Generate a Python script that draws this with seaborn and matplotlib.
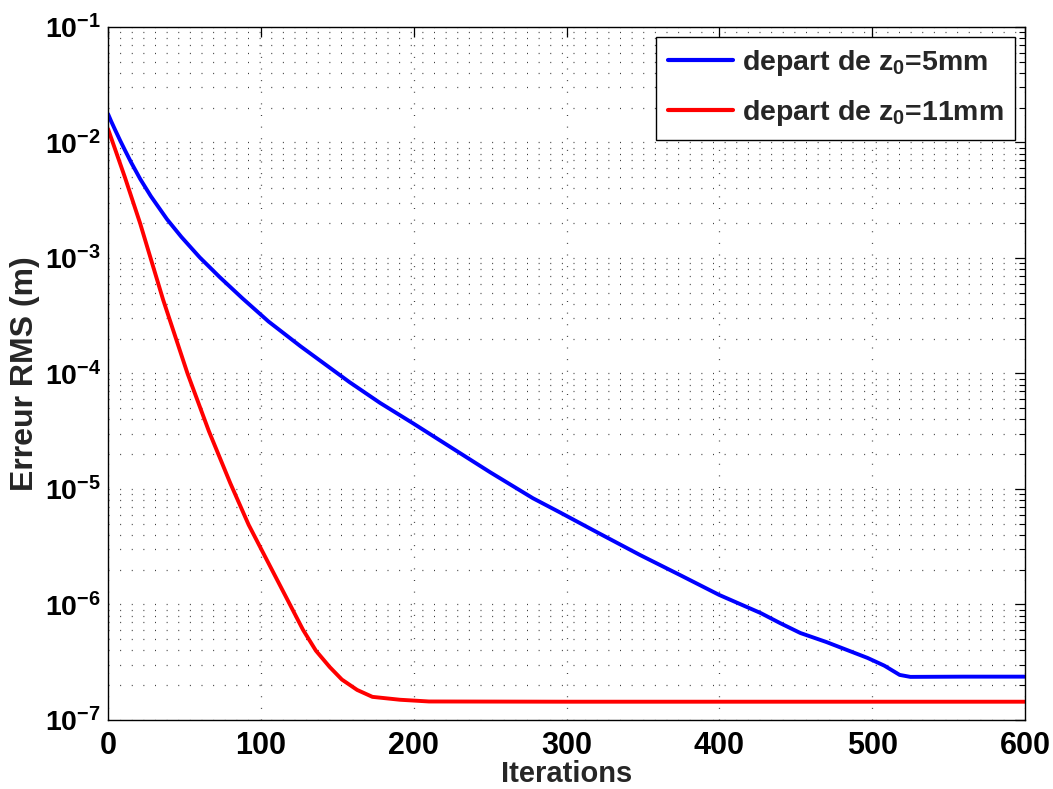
import numpy as np
import pandas as pd
import matplotlib
matplotlib.use("Agg")
import matplotlib.pyplot as plt
import seaborn as sns
from matplotlib.ticker import LogLocator, FixedLocator, NullFormatter

# ---- data (log10 of RMS error) ----
blue_iter = [0, 2, 4.6, 8, 11, 15, 21, 28, 38.6, 48, 60, 73, 88, 105, 126, 142, 158,
             178, 200, 225, 250, 278, 296, 320, 348, 375, 400, 427, 440, 453, 470,
             497, 508, 518, 525, 560, 600]
blue_log = [-1.753, -1.815, -1.89, -1.985, -2.065, -2.17, -2.315, -2.465, -2.665, -2.818,
            -2.995, -3.165, -3.35, -3.55, -3.765, -3.92, -4.075, -4.255, -4.435, -4.645,
            -4.855, -5.08, -5.205, -5.375, -5.571, -5.75, -5.918, -6.074, -6.163,
            -6.247, -6.325, -6.463, -6.53, -6.61, -6.627, -6.625, -6.625]
red_iter = [0, 11, 21, 36, 52, 66, 80, 92, 104.7, 119, 127.6, 136, 145, 153, 163,
            173, 191, 210, 300, 400, 600]
red_log = [-1.883, -2.30, -2.70, -3.36, -4.0, -4.5, -4.95, -5.31, -5.635, -6.0, -6.22,
           -6.40, -6.541, -6.65, -6.74, -6.80, -6.825, -6.84, -6.842, -6.842, -6.842]
series_labels = ["depart de z$_0$=5mm", "depart de z$_0$=11mm"]
series_colors = ["#0000ff", "#ff0000"]
x_ticks = [0, 100, 200, 300, 400, 500, 600]

df = pd.concat([
    pd.DataFrame({"Iterations": blue_iter, "err": 10.0 ** np.array(blue_log), "series": series_labels[0]}),
    pd.DataFrame({"Iterations": red_iter, "err": 10.0 ** np.array(red_log), "series": series_labels[1]}),
], ignore_index=True)

sns.set_style("white")
plt.rcParams["font.family"] = ["Liberation Sans", "DejaVu Sans"]
plt.rcParams["font.weight"] = "bold"
plt.rcParams["mathtext.fontset"] = "custom"
plt.rcParams["mathtext.rm"] = "Liberation Sans:bold"
plt.rcParams["mathtext.bf"] = "Liberation Sans:bold"
plt.rcParams["mathtext.it"] = "Liberation Sans:bold"
plt.rcParams["mathtext.default"] = "bf"

fig = plt.figure(figsize=(10.53, 7.89), dpi=100)
ax = fig.add_axes([0.1026, 0.0875, 0.8708, 0.8783])

sns.lineplot(data=df, x="Iterations", y="err", hue="series", palette=series_colors,
             linewidth=2.8, ax=ax, sort=False, estimator=None)
for ln in ax.get_lines():
    ln.set_solid_joinstyle("round")
ax.set_yscale("log")
ax.set_xlim(0, 600)
ax.set_ylim(1e-7, 1e-1)
ax.xaxis.set_major_locator(FixedLocator(x_ticks))
ax.yaxis.set_major_locator(LogLocator(base=10, numticks=10))
ax.yaxis.set_minor_locator(LogLocator(base=10, subs=np.arange(2, 10), numticks=100))
ax.yaxis.set_minor_formatter(NullFormatter())
ax.xaxis.set_minor_formatter(NullFormatter())

dot = (0, (0.8, 8.5))
ax.grid(True, which="major", axis="both", linestyle=dot, color="0.25", linewidth=0.9)
ax.grid(True, which="minor", axis="y", linestyle=dot, color="0.25", linewidth=0.9)

for s in ax.spines.values():
    s.set_visible(True)
    s.set_color("black")
    s.set_linewidth(1.0)

ax.tick_params(which="both", direction="in", top=True, right=True, colors="black")
ax.tick_params(which="major", length=7, width=0.9)
ax.tick_params(which="minor", length=4, width=0.8)
ax.tick_params(axis="x", which="major", labelsize=22, pad=8)
ax.tick_params(axis="y", which="major", labelsize=20.5, pad=5)
for lab in ax.get_xticklabels() + ax.get_yticklabels():
    lab.set_fontweight("bold")

ax.set_xlabel("Iterations", fontsize=21, fontweight="bold", labelpad=-1)
ax.set_ylabel("Erreur RMS (m)", fontsize=23, fontweight="bold", labelpad=3)

leg = ax.legend(loc="upper right", fontsize=20.5, frameon=True, fancybox=False,
                framealpha=1, edgecolor="black", borderaxespad=0.35,
                handlelength=2.3, handletextpad=0.3, labelspacing=0.7,
                borderpad=0.4)
leg.get_frame().set_linewidth(1.0)
for line in leg.get_lines():
    line.set_linewidth(3)
for t in leg.get_texts():
    t.set_fontweight("bold")

fig.savefig("out.png", dpi=100)
